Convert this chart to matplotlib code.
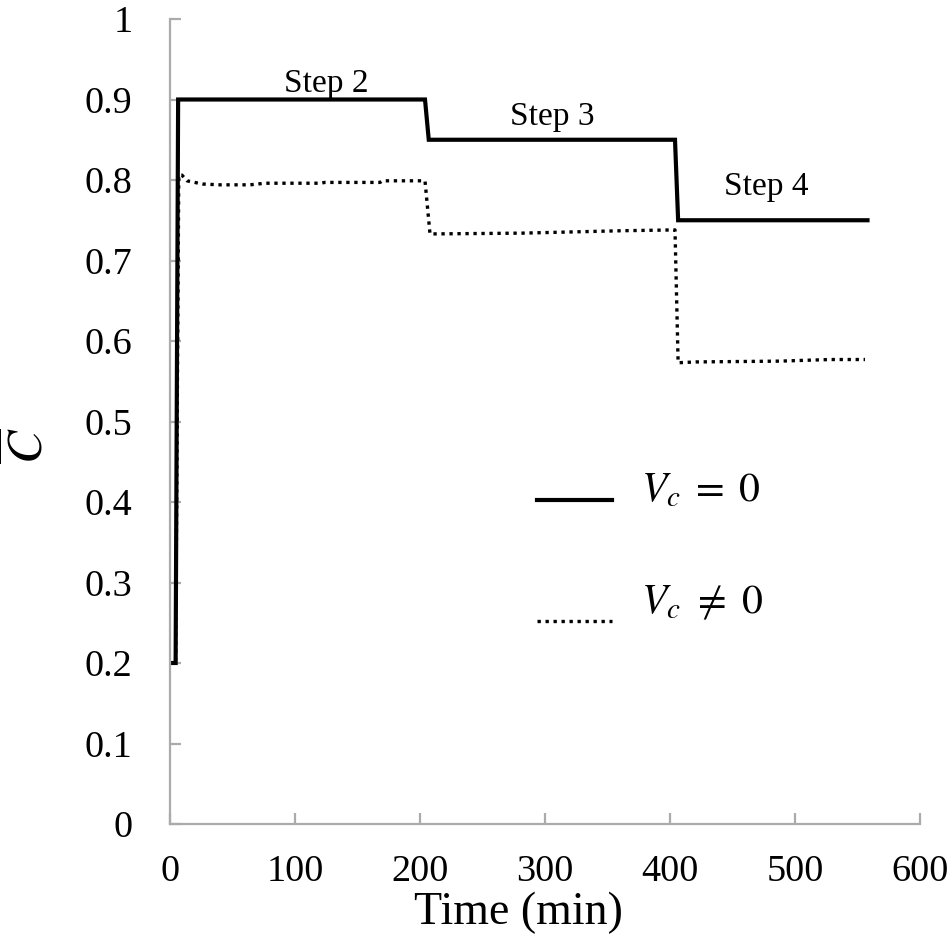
import matplotlib
matplotlib.use("Agg")
import matplotlib.pyplot as plt
from matplotlib.lines import Line2D
from matplotlib.legend_handler import HandlerLine2D

# ---- data ----
t_solid = [0, 4.5, 6.5, 204, 207, 404, 406.5, 558]
c_solid = [0.2, 0.2, 0.9, 0.9, 0.85, 0.85, 0.75, 0.75]

t_dotted = [0, 4.5, 7, 9.6, 13.6, 26, 40, 64, 76, 120, 124, 168, 170, 204,
            208, 282, 362, 404, 406.5, 421, 488, 528, 556]
c_dotted = [0.2, 0.2, 0.806, 0.806, 0.799, 0.795, 0.794, 0.794, 0.796, 0.796, 0.797, 0.797, 0.799, 0.799,
            0.733, 0.734, 0.737, 0.738, 0.573, 0.574, 0.575, 0.577, 0.577]

step_labels = ["Step 2", "Step 3", "Step 4"]
step_x = [125, 306, 477]
step_y = [0.909, 0.868, 0.781]

x_ticks = [0, 100, 200, 300, 400, 500, 600]
x_ticklabels = ["0", "100", "200", "300", "400", "500", "600"]
y_ticks = [0, 0.1, 0.2, 0.3, 0.4, 0.5, 0.6, 0.7, 0.8, 0.9, 1.0]
y_ticklabels = ["0", "0.1", "0.2", "0.3", "0.4", "0.5", "0.6", "0.7", "0.8", "0.9", "1"]

legend_labels = [r"$V_c\;=\;0$", r"$V_c\ \neq\ 0$"]
y_label = r"$\overline{C}$"

# ---- style ----
plt.rcParams['font.family'] = ['Liberation Serif', 'DejaVu Serif']
plt.rcParams['mathtext.fontset'] = 'stix'

DOT = (0, (1, 1.4))


class ShiftedLineHandler(HandlerLine2D):
    """Line handler whose line sits a bit below the label's centre."""
    def __init__(self, drop, **kw):
        super().__init__(**kw)
        self.drop = drop

    def create_artists(self, legend, orig_handle, xdescent, ydescent,
                       width, height, fontsize, trans):
        return super().create_artists(legend, orig_handle, xdescent,
                                      ydescent + 2 * self.drop, width, height,
                                      fontsize, trans)


fig = plt.figure(figsize=(9.53, 9.41), dpi=100)
ax = fig.add_axes([170/953, 1 - 824/941, 750/953, 805/941])

ax.plot(t_solid, c_solid, color='black', lw=3, solid_joinstyle='miter')
ax.plot(t_dotted, c_dotted, color='black', lw=2.4, linestyle=DOT,
        dash_capstyle='butt')

for lab, x, y in zip(step_labels, step_x, step_y):
    ax.text(x, y, lab, ha='center', va='baseline', fontsize=24)

ax.set_xlim(0, 600)
ax.set_ylim(0, 1)
ax.set_xticks(x_ticks)
ax.set_xticklabels(x_ticklabels)
ax.set_yticks(y_ticks)
ax.set_yticklabels(y_ticklabels)

for s in ['top', 'right']:
    ax.spines[s].set_visible(False)
for s in ['left', 'bottom']:
    ax.spines[s].set_color('#ababab')
    ax.spines[s].set_linewidth(1.6)
ax.tick_params(direction='in', length=8, width=1.6, color='#ababab',
               labelsize=27.5, pad=22)
ax.tick_params(axis='y', pad=27)

ax.set_xlabel("Time (min)", fontsize=33)
ax.xaxis.set_label_coords(0.465, -0.084)
ax.set_ylabel(y_label, fontsize=36, rotation=90)
ax.yaxis.set_label_coords(-0.157, 0.47)

h_solid = Line2D([], [], color='black', lw=3)
h_dot = Line2D([], [], color='black', lw=2.4, linestyle=DOT, dash_capstyle='butt')
ax.legend([h_solid, h_dot], legend_labels, loc='upper left', bbox_to_anchor=(0.489, 0.437),
          frameon=False, fontsize=30, handlelength=1.8, handletextpad=0.7,
          labelspacing=1.75, borderpad=0, borderaxespad=0,
          handler_map={h_solid: ShiftedLineHandler(9), h_dot: ShiftedLineHandler(16)})

fig.savefig("out.png", dpi=100)
